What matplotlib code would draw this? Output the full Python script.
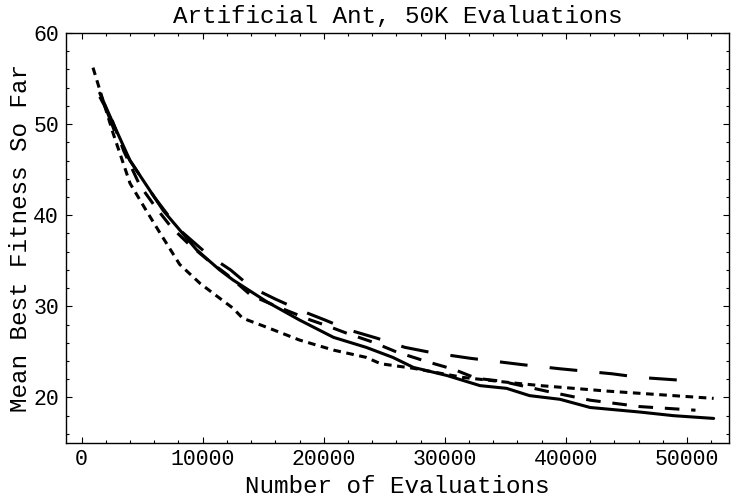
import matplotlib
matplotlib.use('Agg')
import matplotlib.pyplot as plt
from matplotlib.ticker import MultipleLocator

# data
x_solid = [1500, 2600, 4000, 6750, 9500, 11400, 12500, 15300, 18000, 20800, 23500,
           25700, 27400, 30200, 32900, 35100, 37000, 39500, 42000, 46100, 48900, 52200]
y_solid = [53.4, 50.1, 46.0, 40.5, 36.2, 34.0, 32.9, 30.5, 28.5, 26.6, 25.5,
           24.4, 23.3, 22.4, 21.3, 21.0, 20.2, 19.8, 18.9, 18.4, 18.0, 17.7]

x_long = [1900, 2900, 4000, 6000, 8000, 10500, 12300, 14000, 16000, 18000, 20100,
          22100, 24400, 26700, 29000, 32100, 36400, 39500, 43800, 46100, 50500]
y_long = [52.1, 48.6, 46.0, 42.0, 38.5, 35.6, 34.0, 32.1, 30.8, 29.6, 28.5,
          27.4, 26.5, 25.5, 24.9, 24.3, 23.6, 23.15, 22.6, 22.2, 21.8]

x_med = [1500, 2500, 3500, 4800, 6100, 7400, 8800, 10500, 12000, 14000, 16100, 18900,
         20200, 22000, 24000, 26000, 28600, 30700, 32600, 34600, 37000, 38700, 42000,
         46100, 50700]
y_med = [53.0, 50.5, 47.0, 43.3, 40.9, 38.7, 36.9, 35.0, 33.5, 31.2, 30.0, 28.5,
         27.9, 27.0, 26.1, 25.0, 23.9, 23.1, 22.1, 21.8, 21.1, 20.6, 19.7,
         19.0, 18.6]

x_short = [940, 2600, 4000, 5300, 6500, 8100, 9800, 11400, 12500, 13300, 15300, 18000,
           20800, 23500, 24700, 27400, 31500, 35600, 37900, 43400, 48900, 52200]
y_short = [56.2, 49.0, 43.5, 40.6, 38.0, 34.6, 32.5, 30.9, 29.8, 28.7, 27.7, 26.3,
           25.2, 24.4, 23.7, 23.2, 22.2, 21.6, 21.3, 20.7, 20.2, 19.9]

plt.rcParams['font.family'] = ['Liberation Mono', 'DejaVu Sans Mono']
plt.rcParams['lines.scale_dashes'] = False

fig = plt.figure(figsize=(7.31, 4.98), dpi=100)
ax = fig.add_axes([0.0903, 0.1104, 0.9070, 0.8233])

lw = 2.2
ax.plot(x_solid, y_solid, color='black', lw=lw, solid_capstyle='round')
ax.plot(x_long, y_long, color='black', lw=lw, dashes=(20, 16), dash_capstyle='butt')
ax.plot(x_med, y_med, color='black', lw=lw, dashes=(10.5, 8.5), dash_capstyle='butt')
ax.plot(x_short, y_short, color='black', lw=lw, dashes=(5.5, 4), dash_capstyle='butt')

ax.set_xlim(-1288, 53470)
ax.set_ylim(15, 60)
ax.xaxis.set_major_locator(MultipleLocator(10000))
ax.xaxis.set_minor_locator(MultipleLocator(2000))
ax.yaxis.set_major_locator(MultipleLocator(10))
ax.yaxis.set_minor_locator(MultipleLocator(2))
ax.tick_params(which='both', direction='in', top=True, right=True, width=0.8,
               labelsize=15.5)
ax.tick_params(axis='x', pad=4)
ax.tick_params(axis='y', pad=5)
ax.tick_params(which='major', length=4)
ax.tick_params(which='minor', length=2)
for s in ax.spines.values():
    s.set_linewidth(1.0)

ax.set_title('Artificial Ant, 50K Evaluations', fontsize=17.5, pad=7)
ax.set_xlabel('Number of Evaluations', fontsize=17.5, va='center')
ax.xaxis.set_label_coords(0.5, -0.106)
ax.set_ylabel('Mean Best Fitness So Far', fontsize=17.5, va='center')
ax.yaxis.set_label_coords(-0.069, 0.5)

fig.savefig('out.png', dpi=100)
